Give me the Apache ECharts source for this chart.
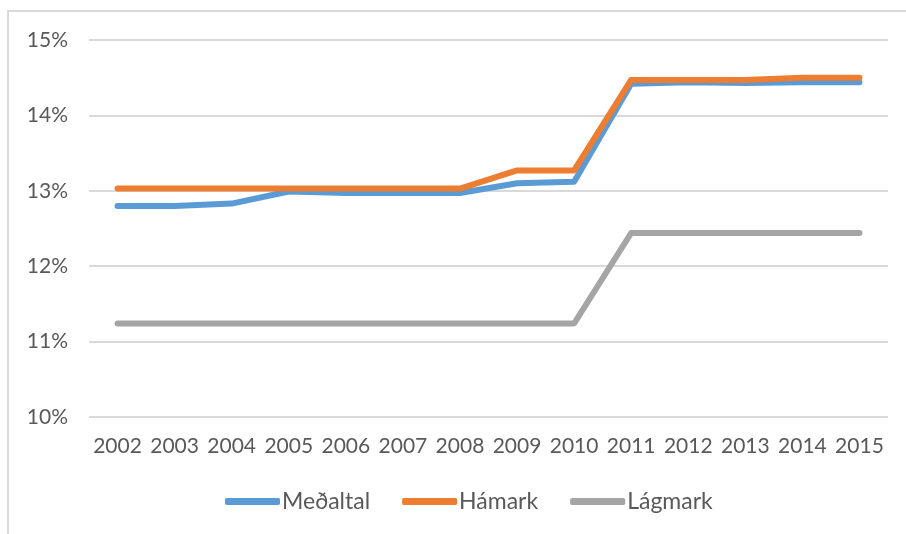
<!DOCTYPE html>
<html>
<head>
<meta charset="utf-8">
<script src="https://cdn.jsdelivr.net/npm/echarts@6/dist/echarts.min.js"></script>
<style>
  body { margin: 0; background: #fff; }
  #main { width: 906px; height: 534px; }
</style>
</head>
<body>
<div id="main"></div>
<script>
  const years = ['2002', '2003', '2004', '2005', '2006', '2007', '2008', '2009', '2010', '2011', '2012', '2013', '2014', '2015']
  const medaltal = [12.80, 12.80, 12.83, 12.99, 12.97, 12.97, 12.97, 13.10, 13.12, 14.42, 14.44, 14.43, 14.44, 14.44]
  const hamark = [13.03, 13.03, 13.03, 13.03, 13.03, 13.03, 13.03, 13.27, 13.27, 14.47, 14.47, 14.47, 14.50, 14.50]
  const lagmark = [11.24, 11.24, 11.24, 11.24, 11.24, 11.24, 11.24, 11.24, 11.24, 12.44, 12.44, 12.44, 12.44, 12.44]

  const font = 'Lato, "Open Sans", sans-serif'
  const txt = '#595959'

  function lineSeries(name, data, color) {
    return {
      name: name,
      type: 'line',
      data: data,
      symbol: 'none',
      lineStyle: { width: 6, color: color, cap: 'round', join: 'round' },
      itemStyle: { color: color }
    }
  }

  let myChart = echarts.init(document.getElementById('main'))
  let option = {
    animation: false,
    textStyle: { fontFamily: font },
    graphic: [{
      type: 'rect',
      shape: { x: 8, y: 11, width: 920, height: 540 },
      style: { fill: 'none', stroke: '#d9d9d9', lineWidth: 2 }
    }],
    grid: { left: 89, right: 18, top: 40, bottom: 117 },
    legend: {
      bottom: 16,
      left: 220,
      icon: 'roundRect',
      itemWidth: 55,
      itemHeight: 7,
      itemGap: 32,
      textStyle: { fontFamily: font, fontSize: 23, color: txt, padding: [0, 0, 0, -3] },
      data: ['Meðaltal', 'Hámark', 'Lágmark']
    },
    xAxis: {
      type: 'category',
      data: years,
      boundaryGap: true,
      axisLine: { show: false },
      axisTick: { show: false },
      axisLabel: { interval: 0, color: txt, fontSize: 21, margin: 19, fontFamily: font }
    },
    yAxis: {
      type: 'value',
      min: 10,
      max: 15,
      interval: 1,
      axisLabel: { formatter: '{value}%', color: txt, fontSize: 21, margin: 21, fontFamily: font },
      splitLine: { lineStyle: { color: '#d9d9d9', width: 2 } }
    },
    series: [
      lineSeries('Meðaltal', medaltal, '#5B9BD5'),
      lineSeries('Hámark', hamark, '#ED7D31'),
      lineSeries('Lágmark', lagmark, '#A5A5A5')
    ]
  }
  myChart.setOption(option)
</script>
</body>
</html>
